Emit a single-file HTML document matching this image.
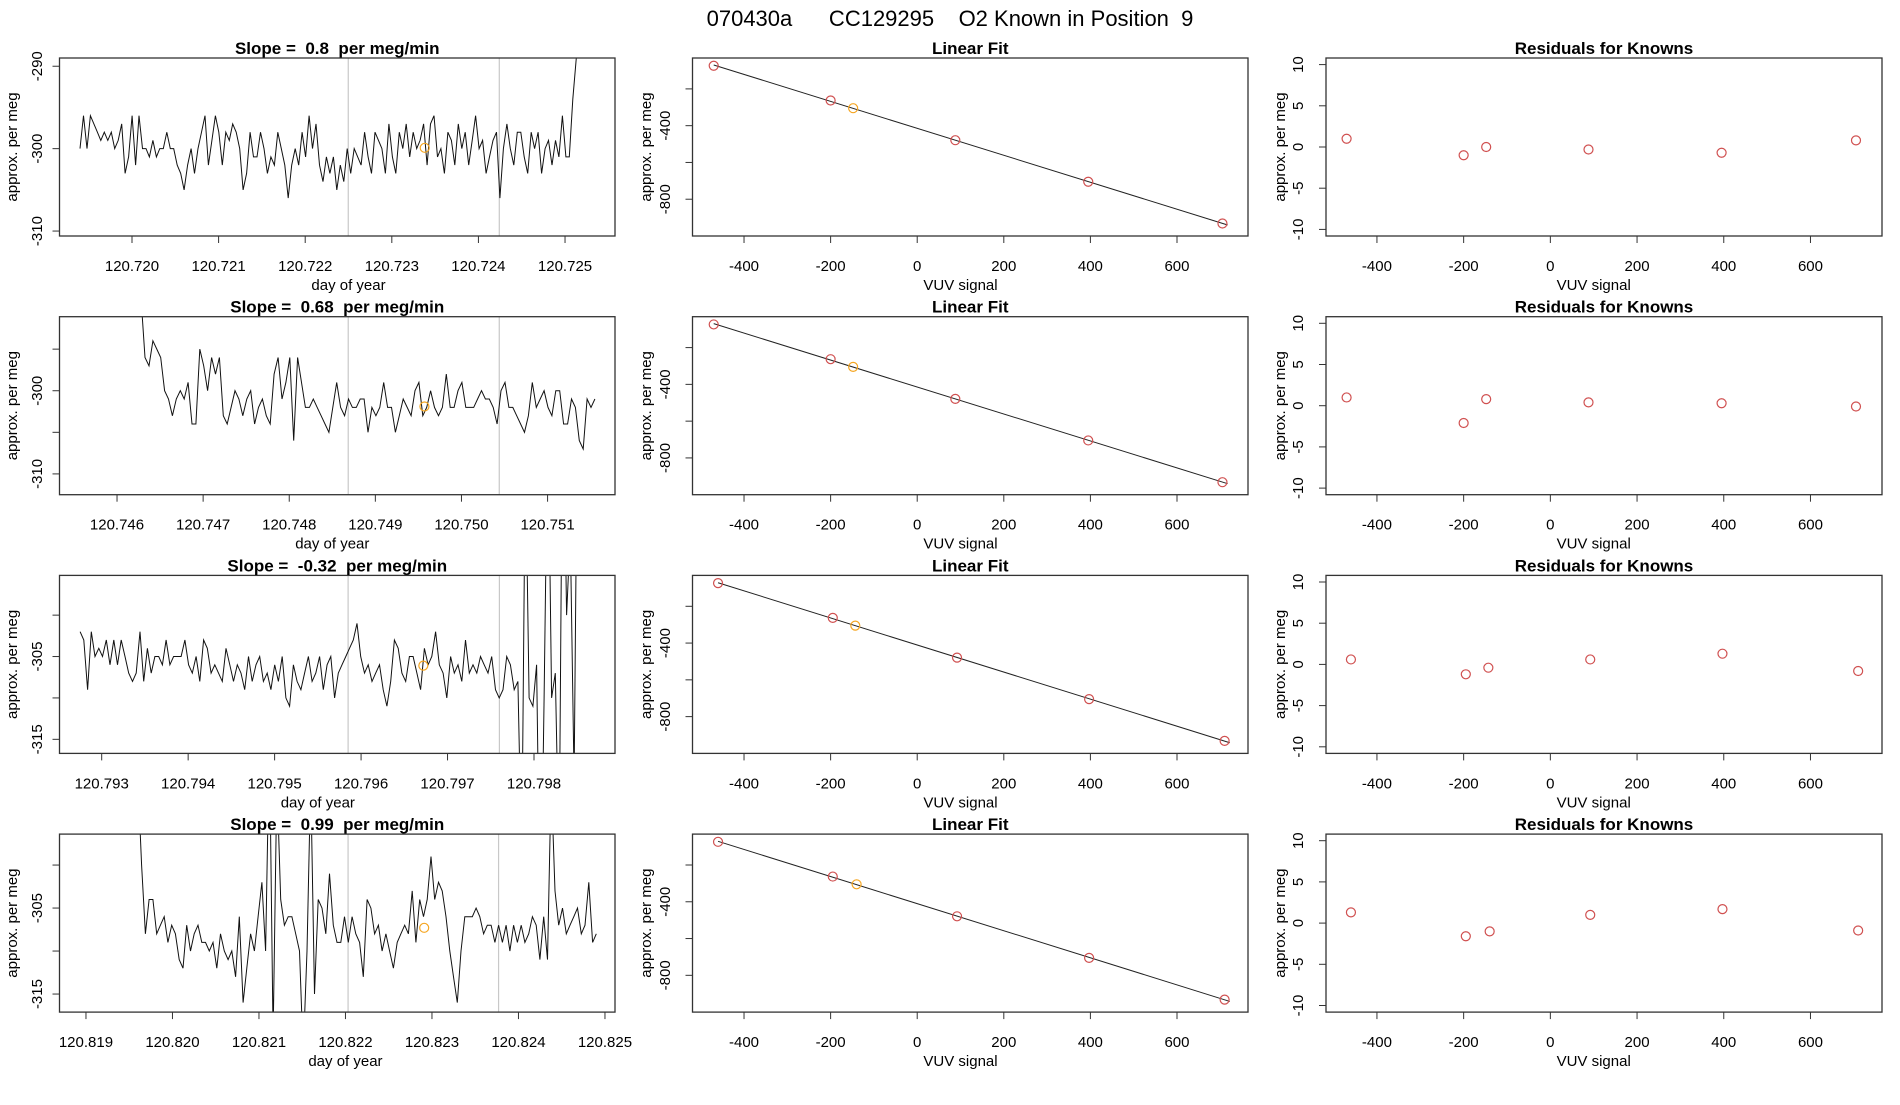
<!DOCTYPE html>
<html><head><meta charset="utf-8"><style>
html,body{margin:0;padding:0;background:#fff}
svg text{font-family:"Liberation Sans",sans-serif;fill:#000;white-space:pre}
</style></head><body>
<svg id="chart" width="1900" height="1100" xmlns="http://www.w3.org/2000/svg">
<text x="950" y="26" text-anchor="middle" font-size="22" xml:space="preserve">070430a      CC129295    O2 Known in Position  9</text>
</svg>
<script>
const slopes = ["0.8","0.68","-0.32","0.99"];
const tsStart = [120.7194,120.74628,120.79275,120.8196];
const tsEnd = [120.72513,120.75155,120.79855,120.8249];
const tsXmin = [120.719163,120.745332,120.792512,120.818694];
const tsXmax = [120.725577,120.751783,120.798937,120.825116];
const tsYmin = [-310.6,-312.5,-316.7,-317.1];
const tsYmax = [-289.0,-291.1,-295.2,-296.4];
const tsXticks = [[120.720,120.721,120.722,120.723,120.724,120.725],[120.746,120.747,120.748,120.749,120.750,120.751],[120.793,120.794,120.795,120.796,120.797,120.798],[120.819,120.820,120.821,120.822,120.823,120.824,120.825]];
const tsYticks = [[-290,-300,-310],[-295,-300,-305,-310],[-300,-305,-310,-315],[-300,-305,-310,-315]];
const tsYlabels = [[-290,-300,-310],[-300,-310],[-305,-315],[-305,-315]];
const vlines = [[120.722497,120.724241],[120.748685,120.750439],[120.79585,120.79760],[120.82203,120.82377]];
const knownT = [120.72338,120.74957,120.79672,120.82291];
const knownV = [-299.9,-301.9,-306.1,-307.3];
const series1 = [-300,-296,-300,-296,-297,-298,-299,-298,-299,-298,-300,-299,-297,-303,-301,-296,-302,-296,-300,-300,-301,-299,-301,-300,-300,-298,-300,-300,-302,-303,-305,-302,-300,-303,-300,-298,-296,-302,-299,-296,-298,-302,-298,-299,-297,-298,-300,-305,-303,-298,-301,-301,-298,-300,-303,-301,-302,-298,-300,-302,-306,-302,-300,-302,-298,-301,-296,-300,-297,-302,-304,-301,-303,-301,-305,-302,-304,-300,-303,-300,-301,-302,-298,-301,-303,-298,-299,-300,-303,-297,-301,-303,-298,-300,-297,-301,-298,-300,-299,-297,-302,-297,-296,-301,-300,-303,-298,-299,-302,-297,-300,-298,-302,-299,-296,-300,-299,-303,-301,-299,-298,-306,-300,-297,-300,-302,-298,-298,-301,-303,-298,-300,-298,-303,-300,-299,-302,-299,-301,-296,-301,-301,-294,-289];
const series2 = [-289,-296,-297,-294,-295,-296,-300,-301,-303,-301,-300,-301,-299,-304,-304,-295,-297,-300,-296,-298,-296,-303,-304,-302,-300,-301,-303,-301,-300,-304,-302,-301,-303,-304,-298,-296,-301,-299,-296,-306,-296,-299,-302,-302,-301,-302,-303,-304,-305,-302,-299,-302,-303,-301,-302,-302,-301,-301,-305,-302,-303,-302,-299,-302,-302,-305,-303,-301,-302,-303,-300,-299,-303,-302,-300,-302,-303,-302,-298,-302,-302,-300,-299,-302,-302,-302,-301,-300,-301,-301,-302,-304,-300,-299,-302,-302,-303,-304,-305,-303,-299,-302,-301,-300,-302,-303,-300,-300,-304,-304,-301,-302,-306,-307,-301,-302,-301];
const series3 = [-302,-303,-309,-302,-305,-304,-305,-303,-306,-303,-306,-303,-305,-307,-308,-307,-302,-308,-304,-307,-305,-305,-306,-303,-306,-305,-305,-305,-303,-306,-307,-305,-308,-303,-304,-307,-306,-307,-308,-304,-306,-308,-306,-307,-309,-305,-308,-306,-305,-308,-307,-309,-306,-308,-305,-310,-311,-306,-308,-309,-307,-305,-308,-307,-305,-309,-306,-305,-310,-307,-306,-305,-304,-303,-301,-305,-307,-306,-308,-307,-306,-309,-311,-308,-303,-304,-307,-308,-305,-305,-307,-309,-304,-306,-305,-302,-306,-307,-310,-305,-307,-306,-308,-303,-307,-306,-307,-305,-306,-307,-305,-309,-310,-309,-305,-306,-309,-308,-330,-280,-310,-311,-306,-340,-310,-275,-310,-307,-330,-270,-300,-290,-320,-270,-285];
const series4 = [-290,-300,-308,-304,-304,-308,-307,-306,-309,-307,-308,-311,-312,-307,-310,-308,-307,-309,-309,-310,-309,-312,-308,-310,-311,-310,-313,-306,-316,-312,-308,-310,-306,-302,-310,-285,-320,-290,-304,-307,-306,-306,-308,-310,-322,-310,-290,-315,-304,-305,-308,-301,-307,-309,-309,-306,-309,-306,-308,-309,-313,-304,-305,-308,-307,-310,-308,-310,-312,-309,-308,-307,-308,-303,-309,-304,-306,-304,-299,-304,-302,-303,-306,-310,-313,-316,-310,-306,-306,-306,-305,-306,-308,-307,-307,-309,-307,-309,-307,-310,-307,-309,-307,-309,-308,-306,-307,-311,-306,-311,-290,-303,-307,-305,-308,-307,-306,-305,-308,-307,-302,-309,-308];
const allSeries = [series1,series2,series3,series4];
const fitX = [[-470,-200,-148,88,395,705],[-470,-200,-148,88,395,705],[-460,-195,-143,92,397,710],[-460,-195,-140,92,397,710]];
const fitY = [[-74,-263,-305,-479,-705,-932],[-74,-263,-305,-479,-705,-932],[-74,-263,-305,-479,-705,-932],[-74,-263,-305,-479,-705,-932]];
const resid = [[1.0,-1.0,0.0,-0.3,-0.7,0.8],[1.0,-2.1,0.8,0.4,0.3,-0.1],[0.6,-1.2,-0.4,0.6,1.3,-0.8],[1.3,-1.6,-1.0,1.0,1.7,-0.9]];
const vuvTicks = [-400,-200,0,200,400,600];
const fitYticks = [-200,-400,-600,-800];
const fitYlabels = [-400,-800];
const resTicks = [10,5,0,-5,-10];

const NS="http://www.w3.org/2000/svg";
const svg=document.getElementById('chart');
function mk(tag,attrs,parent){const e=document.createElementNS(NS,tag);for(const k in attrs)e.setAttribute(k,attrs[k]);(parent||svg).appendChild(e);return e;}
function lin(d0,d1,r0,r1){return v=>r0+(v-d0)/(d1-d0)*(r1-r0);}

const rowTop0=58, rowStep=258.7, boxH=178;
const panels=[{l:59.5,r:615},{l:692.5,r:1248},{l:1326,r:1882}];

function frame(g,p,top,title,titleName){
  const b=mk('rect',{x:p.l,y:top,width:p.r-p.l,height:boxH,fill:'none',stroke:'#333','stroke-width':1.3},g);
  
  
  const t=mk('text',{x:(p.l+p.r)/2,y:top-4,'text-anchor':'middle','font-size':17,'font-weight':'bold'},g);
  t.textContent=title;
  
  
}
function xAxis(g,ticks,sx,top,fmt,label){
  const by=top+boxH;
  ticks.forEach(v=>{
    const x=sx(v);
    mk('line',{x1:x,y1:by,x2:x,y2:by+7,stroke:'#333'},g);
    const t=mk('text',{x:x,y:by+35,'text-anchor':'middle','font-size':15},g);
    t.textContent=fmt(v);
    
    
  });
  const l=mk('text',{x:(sx(ticks[0])+sx(ticks[ticks.length-1]))/2,y:by+54,'text-anchor':'middle','font-size':15},g);
  l.textContent=label;
  
  
}
function yAxis(g,left,ticks,labels,sy,tlx,alx,top){
  ticks.forEach(v=>{const y=sy(v);mk('line',{x1:left,y1:y,x2:left-7,y2:y,stroke:'#333'},g);});
  labels.forEach(v=>{
    const y=sy(v);
    const t=mk('text',{x:tlx,y:y,'text-anchor':'middle','font-size':15,transform:`rotate(-90 ${tlx} ${y})`,dy:5},g);
    t.textContent=String(v);
    
    
  });
  const cy=top+boxH/2;
  const l=mk('text',{x:alx,y:cy,'text-anchor':'middle','font-size':15,transform:`rotate(-90 ${alx} ${cy})`,dy:5},g);
  l.textContent='approx. per meg';
  
  
}

for(let r=0;r<4;r++){
  const top=rowTop0+r*rowStep;
  const p=panels[0];
  const g=mk('g',{});
  
  
  const sx=lin(tsXmin[r],tsXmax[r],p.l,p.r);
  const sy=lin(tsYmin[r],tsYmax[r],top+boxH,top);
  const cp=mk('clipPath',{id:'clip'+r},g);
  mk('rect',{x:p.l,y:top,width:p.r-p.l,height:boxH},cp);
  vlines[r].forEach(v=>{
    const l=mk('line',{x1:sx(v),y1:top,x2:sx(v),y2:top+boxH,stroke:'#c8c8c8','stroke-width':1.2},g);
    
    
  });
  const s=allSeries[r];
  const pts=s.map((v,i)=>{const t=tsStart[r]+(tsEnd[r]-tsStart[r])*i/(s.length-1);return sx(t).toFixed(1)+','+sy(v).toFixed(1);}).join(' ');
  const pl=mk('polyline',{points:pts,fill:'none',stroke:'#111','stroke-width':1,'clip-path':`url(#clip${r})`},g);
  
  
  const kc=mk('circle',{cx:sx(knownT[r]),cy:sy(knownV[r]),r:4.5,fill:'none',stroke:'#f5a623','stroke-width':1.2},g);
  
  
  frame(g,p,top,'Slope =  '+slopes[r]+'  per meg/min','slope-title');
  xAxis(g,tsXticks[r],sx,top,v=>v.toFixed(3),'day of year');
  yAxis(g,p.l,tsYticks[r],tsYlabels[r],sy,37,12,top);

  const p2=panels[1];
  const g2=mk('g',{});
  
  
  const fx=lin(-519,764,p2.l,p2.r);
  const fy=lin(-1000,-32,top+boxH,top);
  const xs=fitX[r], ys=fitY[r];
  const n=xs.length;
  let mx=0,my=0;xs.forEach((v,i)=>{mx+=v;my+=ys[i];});mx/=n;my/=n;
  let sxy=0,sxx=0;xs.forEach((v,i)=>{sxy+=(v-mx)*(ys[i]-my);sxx+=(v-mx)*(v-mx);});
  const b=sxy/sxx,a=my-b*mx;
  const xa=xs[0],xb=xs[n-1]+12;
  const fl=mk('line',{x1:fx(xa),y1:fy(a+b*xa),x2:fx(xb),y2:fy(a+b*xb),stroke:'#222','stroke-width':1},g2);
  
  
  xs.forEach((v,i)=>{
    const c=mk('circle',{cx:fx(v),cy:fy(ys[i]),r:4.5,fill:'none',stroke:i===2?'#f5a623':'#d05050','stroke-width':1.2},g2);
    
    
  });
  frame(g2,p2,top,'Linear Fit','linear-fit-title');
  xAxis(g2,vuvTicks,fx,top,v=>String(v),'VUV signal');
  yAxis(g2,p2.l,fitYticks,fitYlabels,fy,665,646,top);

  const p3=panels[2];
  const g3=mk('g',{});
  
  
  const rx=lin(-517.5,765,p3.l,p3.r);
  const ry=lin(-10.8,10.8,top+boxH,top);
  xs.forEach((v,i)=>{
    const c=mk('circle',{cx:rx(v),cy:ry(resid[r][i]),r:4.5,fill:'none',stroke:'#d05050','stroke-width':1.2},g3);
    
    
  });
  frame(g3,p3,top,'Residuals for Knowns','residuals-title');
  xAxis(g3,vuvTicks,rx,top,v=>String(v),'VUV signal');
  yAxis(g3,p3.l,resTicks,resTicks,ry,1298,1280,top);
}
</script>
</body></html>
